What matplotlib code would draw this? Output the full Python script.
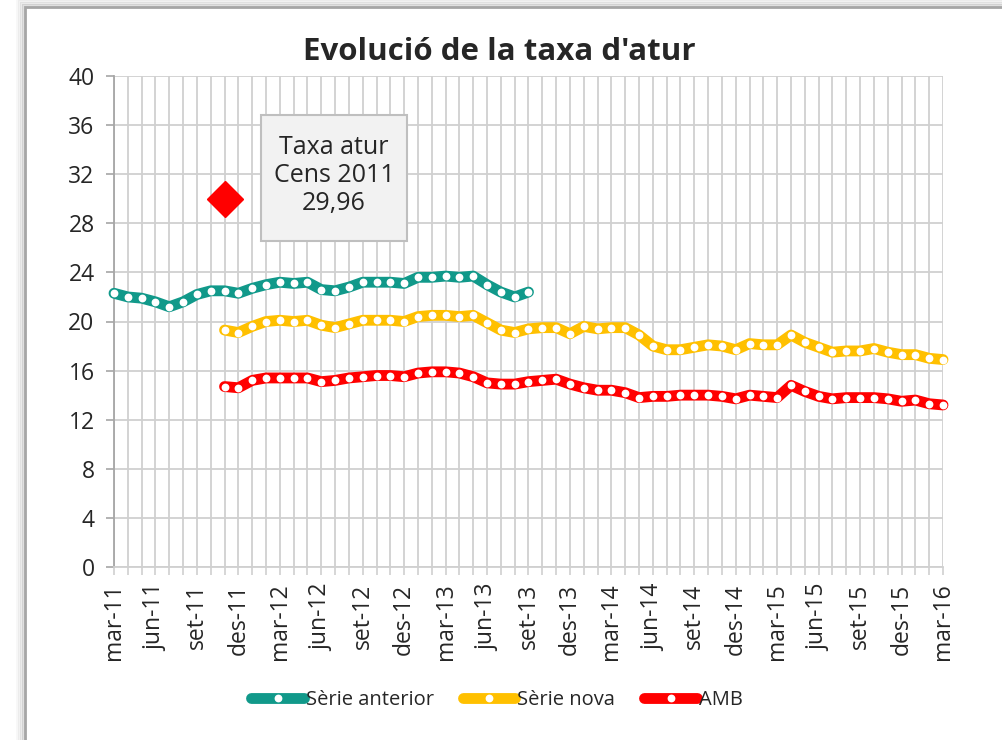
import matplotlib
matplotlib.use("Agg")
import matplotlib.pyplot as plt
import numpy as np
from matplotlib.lines import Line2D
from matplotlib.patches import Rectangle
from matplotlib.ticker import MultipleLocator

# ---- data ----
tick_labels = ['mar-11', 'jun-11', 'set-11', 'des-11',
               'mar-12', 'jun-12', 'set-12', 'des-12',
               'mar-13', 'jun-13', 'set-13', 'des-13',
               'mar-14', 'jun-14', 'set-14', 'des-14',
               'mar-15', 'jun-15', 'set-15', 'des-15',
               'mar-16']
n_months = 61  # mar-11 .. mar-16

serie_anterior_start = 0
serie_anterior = [22.3, 22.0, 21.9, 21.6, 21.2, 21.6, 22.2, 22.5, 22.5, 22.3,
                  22.7, 23.0, 23.2, 23.1, 23.2, 22.6, 22.5, 22.8, 23.2, 23.2,
                  23.2, 23.1, 23.6, 23.6, 23.7, 23.6, 23.7, 23.0, 22.4, 22.0,
                  22.4]

serie_nova_start = 8
serie_nova = [19.3, 19.1, 19.6, 20.0, 20.1, 20.0, 20.1, 19.7, 19.5, 19.8,
              20.1, 20.1, 20.1, 20.0, 20.4, 20.5, 20.5, 20.4, 20.5, 19.9,
              19.3, 19.1, 19.4, 19.5, 19.5, 19.0, 19.6, 19.4, 19.5, 19.5,
              18.9, 18.0, 17.7, 17.7, 17.9, 18.1, 18.0, 17.7, 18.2, 18.1,
              18.1, 18.9, 18.3, 17.9, 17.5, 17.6, 17.6, 17.8, 17.5, 17.3,
              17.3, 17.0, 16.9]

amb_start = 8
amb = [14.7, 14.6, 15.2, 15.4, 15.4, 15.4, 15.4, 15.1, 15.2, 15.4,
       15.5, 15.6, 15.6, 15.5, 15.8, 15.9, 15.9, 15.8, 15.5, 15.0,
       14.9, 14.9, 15.1, 15.2, 15.3, 14.9, 14.6, 14.4, 14.4, 14.2,
       13.8, 13.9, 13.9, 14.0, 14.0, 14.0, 13.9, 13.7, 14.0, 13.9,
       13.8, 14.8, 14.3, 13.9, 13.7, 13.8, 13.8, 13.8, 13.7, 13.5,
       13.6, 13.3, 13.2]

cens_month = 8
cens_value = 29.96
cens_text = "Taxa atur\nCens 2011\n29,96"

series = [("Sèrie anterior", serie_anterior_start, serie_anterior, "#11998A"),
          ("Sèrie nova", serie_nova_start, serie_nova, "#FFC000"),
          ("AMB", amb_start, amb, "#FF0000")]

# ---- figure ----
plt.rcParams['font.family'] = ['Open Sans', 'DejaVu Sans']
W, H = 1003, 740
fig = plt.figure(figsize=(W / 100, H / 100), dpi=100)
fig.patch.set_facecolor('white')

# outer chart border with a soft shadow
def px_rect(x0, y0, x1, y1, **kw):
    return Rectangle((x0 / W, 1 - y1 / H), (x1 - x0) / W, (y1 - y0) / H,
                     transform=fig.transFigure, **kw)

for i, a in enumerate([0.03, 0.05, 0.08, 0.12]):
    off = 8 - 2 * i
    fig.patches.append(px_rect(25 - off, 7 - off, W + 20, H + 20, fill=False,
                               edgecolor='black', alpha=a, linewidth=2,
                               zorder=-10))
fig.patches.append(px_rect(25, 7, W + 20, H + 20, fill=False,
                           edgecolor='#A6A6A6', linewidth=2, zorder=-9))

ax = fig.add_axes([114 / W, 1 - 567 / H, (943 - 114) / W, (567 - 76) / H])
ax.set_facecolor('none')

ax.set_xlim(0, n_months - 1)
ax.set_ylim(0, 40)
ax.yaxis.set_major_locator(MultipleLocator(4))
ax.xaxis.set_minor_locator(MultipleLocator(1))
ax.set_xticks(np.arange(0, n_months, 3))
ax.set_xticklabels(tick_labels, rotation=90, fontsize=16.5, color='#262626')
ax.tick_params(axis='y', labelsize=16.5, labelcolor='#262626', length=6,
               width=1.2, pad=8, color='#A6A6A6')
ax.tick_params(axis='x', which='both', length=6, width=1.2, color='#D0D0D0',
               pad=6)

ax.grid(True, which='both', axis='x', color='#D0D0D0', linewidth=1.3)
ax.grid(True, which='major', axis='y', color='#D0D0D0', linewidth=1.3)
ax.set_axisbelow(True)
for s in ['top', 'right']:
    ax.spines[s].set_visible(False)
ax.spines['left'].set_color('#A6A6A6')
ax.spines['left'].set_linewidth(1.3)
ax.spines['bottom'].set_color('#D0D0D0')
ax.spines['bottom'].set_linewidth(1.3)

LW = 7.8
MS = 4.6
handles = []
for name, start, vals, col in series:
    x = np.arange(start, start + len(vals))
    ax.plot(x, vals, color=col, linewidth=LW, solid_capstyle='round',
            solid_joinstyle='round', clip_on=False, zorder=3)
    ax.plot(x, vals, linestyle='none', marker='o', markersize=MS,
            markerfacecolor='white', markeredgecolor='white', clip_on=False,
            zorder=4)
    h_line = Line2D([], [], color=col, linewidth=LW, solid_capstyle='round')
    h_dot = Line2D([], [], linestyle='none', marker='o', markersize=MS,
                   markerfacecolor='white', markeredgecolor='white')
    handles.append(((h_line, h_dot), name))

# census point
ax.plot([cens_month], [cens_value], marker='D', markersize=18,
        color='#FF0000', linestyle='none', zorder=5, clip_on=False)

# annotation box
x0 = (261 - 114) / (943 - 114) * 60
x1 = (407 - 114) / (943 - 114) * 60
y1 = (567 - 115) / (567 - 76) * 40
y0 = (567 - 241) / (567 - 76) * 40
ax.add_patch(Rectangle((x0, y0), x1 - x0, y1 - y0, facecolor='#F2F2F2',
                       edgecolor='#BFBFBF', linewidth=1.5, zorder=6))
ax.text((x0 + x1) / 2, (y0 + y1) / 2 + 0.2, cens_text, ha='center',
        va='center', fontsize=18, color='#262626', linespacing=1.15,
        zorder=7)

fig.text(499 / W, 1 - 52 / H, "Evolució de la taxa d'atur", ha='center',
         va='center', fontsize=22.5, fontweight='bold', color='#262626')

fig.legend([h for h, _ in handles], [n for _, n in handles],
           loc='center', bbox_to_anchor=(497 / W, 1 - 700 / H), ncol=3,
           frameon=False, fontsize=14.5, handlelength=2.6, handletextpad=0.1,
           columnspacing=1.45, labelcolor='#262626')

fig.savefig("out.png", dpi=100)
